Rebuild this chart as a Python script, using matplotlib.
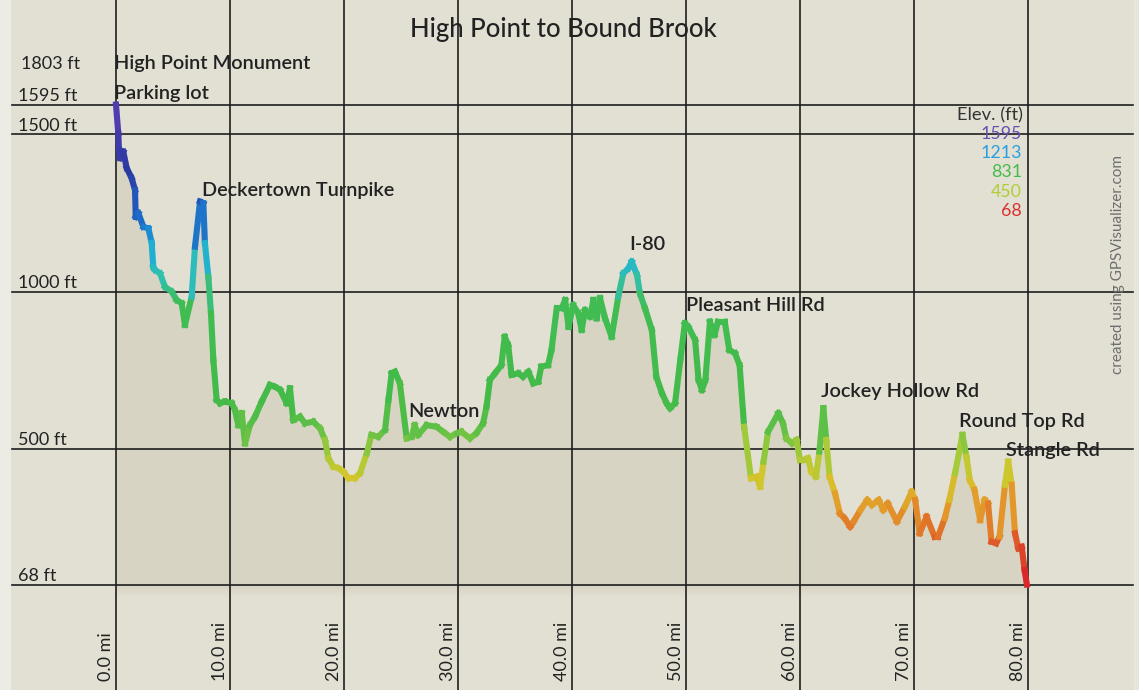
import numpy as np
import matplotlib
matplotlib.use("Agg")
import matplotlib.pyplot as plt
from matplotlib.collections import LineCollection
from matplotlib.colors import LinearSegmentedColormap, Normalize

# ---- track profile (distance in miles, elevation in feet) ----
dist_mi = [0.0, 0.2, 0.26, 0.35, 0.64, 0.94, 1.37, 1.67, 1.73, 1.96, 2.4, 2.84,
           3.13, 3.27, 3.42, 3.86, 4.3, 4.88, 5.32, 5.76, 6.05, 6.64, 6.93, 7.37,
           7.66, 7.8, 8.1, 8.33, 8.54, 8.83, 9.12, 9.56, 10.15, 10.44, 10.73, 11.03,
           11.32, 11.75, 12.19, 12.78, 13.5, 13.95, 14.4, 14.97, 15.26, 15.55, 16.14,
           16.58, 17.3, 17.9, 18.33, 18.63, 19.06, 19.5, 19.94, 20.4, 20.96, 21.4,
           22.0, 22.4, 23.0, 23.6, 23.9, 24.18, 24.47, 24.9, 25.5, 25.94, 26.2, 26.5,
           27.25, 28.1, 28.7, 29.3, 29.9, 30.3, 31.05, 31.6, 32.2, 32.5, 32.8, 33.25,
           33.8, 34.1, 34.4, 34.7, 35.3, 35.7, 36.17, 36.6, 37.04, 37.3, 37.9, 38.2,
           38.66, 39.1, 39.4, 39.7, 40.1, 40.55, 40.85, 41.14, 41.6, 41.87, 42.17,
           42.46, 42.9, 43.48, 44.06, 44.5, 44.94, 45.24, 45.7, 45.96, 46.4, 47.0,
           47.4, 47.9, 48.3, 48.6, 49.04, 49.5, 49.9, 50.2, 50.8, 51.1, 51.4, 51.7,
           52.1, 52.5, 52.8, 53.4, 53.8, 54.3, 54.7, 55.1, 55.7, 56.2, 56.5, 56.8,
           57.2, 58.1, 58.5, 58.8, 59.3, 59.7, 60.0, 60.3, 60.7, 61.0, 61.4, 61.7,
           62.05, 62.3, 62.6, 63.07, 63.5, 63.9, 64.4, 64.7, 65.3, 65.9, 66.3, 66.9,
           67.3, 67.7, 68.5, 69.2, 69.8, 70.1, 70.5, 71.1, 71.8, 72.1, 72.7, 73.1,
           73.6, 74.25, 74.6, 74.9, 75.3, 75.8, 76.2, 76.5, 76.8, 77.2, 77.5, 77.98,
           78.27, 78.57, 78.86, 79.15, 79.45, 79.7, 79.9]
elev_ft = [1595, 1503, 1450, 1425, 1445, 1393, 1361, 1323, 1238, 1250, 1206, 1201,
           1155, 1079, 1069, 1058, 1015, 1000, 973, 963, 894, 984, 1143, 1286,
           1281, 1154, 1047, 931, 782, 655, 645, 650, 645, 623, 575, 613,
           517, 575, 602, 650, 703, 697, 687, 645, 692, 591, 602,
           581, 586, 565, 528, 470, 443, 438, 427, 406, 406, 422,
           485, 544, 538, 560, 655, 740, 745, 708, 533, 538, 575, 544,
           575, 570, 554, 538, 549, 554, 533, 549, 581, 634, 719, 740,
           766, 856, 830, 735, 740, 729, 745, 708, 713, 761, 766, 814,
           947, 947, 973, 888, 957, 931, 878, 941, 920, 973, 915,
           979, 915, 856, 984, 1058, 1074, 1095, 1053, 994, 947, 878,
           729, 676, 645, 629, 645, 782, 899, 888, 846, 719, 687, 719,
           904, 862, 904, 904, 814, 804, 766, 570, 406, 411, 379, 459,
           554, 613, 581, 533, 517, 528, 464, 464, 470, 427, 411, 491,
           629, 528, 411, 358, 294, 279, 252, 268, 305, 337, 321, 337,
           305, 326, 268, 316, 363, 337, 231, 284, 220, 220, 279, 337,
           422, 544, 475, 400, 369, 273, 337, 326, 204, 199, 220, 385,
           459, 385, 231, 183, 188, 114, 68]

# ---- axis labels ----
x_ticks = [0, 10, 20, 30, 40, 50, 60, 70, 80]
x_tick_labels = ["0.0 mi", "10.0 mi", "20.0 mi", "30.0 mi", "40.0 mi",
                 "50.0 mi", "60.0 mi", "70.0 mi", "80.0 mi"]
y_grid = [68, 500, 1000, 1500, 1595]
y_grid_labels = ["68 ft", "500 ft", "1000 ft", "1500 ft", "1595 ft"]
top_label = "1803 ft"

# ---- waypoints: name, mile, label elevation ----
wpt_names = ["High Point Monument", "Parking lot", "Deckertown Turnpike", "Newton",
             "I-80", "Pleasant Hill Rd", "Jockey Hollow Rd", "Round Top Rd", "Stangle Rd"]
wpt_mi = [-0.18, -0.18, 7.54, 25.6, 45.0, 50.0, 61.8, 73.95, 78.07]
wpt_label_ft = [1727, 1629, 1323, 617, 1151, 957, 681, 588, 493]

# ---- elevation colour legend ----
legend_vals = [1595, 1213, 831, 450, 68]
legend_cols = ["#6650b4", "#2a9fe0", "#44bb4a", "#b4cc34", "#d9302f"]

title = "High Point to Bound Brook"

# ---- figure and coordinate frame ----
W, H, DPI = 1139, 690, 100
PX_PER_MI = 11.4
PX_PER_FT = 0.3143
X0_PX, Y68_PX = 116, 584.5

fig = plt.figure(figsize=(W / DPI, H / DPI), dpi=DPI)
bg = "#e2dfd3"
fig.patch.set_facecolor(bg)
ax = fig.add_axes([0, 0, 1, 1])
ax.set_facecolor(bg)
ax.set_xlim(-X0_PX / PX_PER_MI, (W - X0_PX) / PX_PER_MI)
ax.set_ylim(68 - (H - Y68_PX) / PX_PER_FT, 68 + Y68_PX / PX_PER_FT)
ax.axis("off")

def px_x(px):
    return (px - X0_PX) / PX_PER_MI

def px_y(py):
    return 68 + (Y68_PX - py) / PX_PER_FT

# paper edges
ax.axvspan(ax.get_xlim()[0], px_x(11), color="#ecebe4", zorder=0, lw=0)
ax.axvspan(px_x(1134), ax.get_xlim()[1], color="#e8e6dc", zorder=0, lw=0)

x = np.array(dist_mi)
y = np.array(elev_ft)

# shaded area under the profile
ax.fill_between(x, y, 68, color="#d1cdba", alpha=0.6, lw=0, zorder=1)
# soft shadow under the baseline
for k in range(6):
    ax.fill_between([x[0], x[-1]], 68 - 6 * (k + 1), 68, color="#c9c5b3",
                    alpha=0.07, lw=0, zorder=1)

# grid
grid_kw = dict(color="#1e1e1e", lw=1.2, zorder=2)
for t in x_ticks:
    ax.axvline(t, **grid_kw)
for v in y_grid:
    ax.plot([px_x(12), px_x(1133)], [v, v], **grid_kw)

# profile line coloured by elevation
cmap = LinearSegmentedColormap.from_list("elev", [
    (0.00, "#d8202a"), (0.09, "#df5a28"), (0.16, "#e39a2a"),
    (0.22, "#d6c62a"), (0.27, "#a6cb38"), (0.32, "#62c146"),
    (0.38, "#44bb48"), (0.58, "#40bc52"), (0.64, "#30c0b4"),
    (0.70, "#1aaadc"), (0.77, "#1f62c2"), (0.86, "#2a3aa2"),
    (1.00, "#5a3cb2")])
norm = Normalize(vmin=68, vmax=1595)
pts = np.column_stack([x, y]).reshape(-1, 1, 2)
segs = np.concatenate([pts[:-1], pts[1:]], axis=1)
seg_elev = (y[:-1] + y[1:]) / 2
lc = LineCollection(segs, colors=cmap(norm(seg_elev)), linewidths=4.4,
                    capstyle="projecting", joinstyle="miter", zorder=3)
ax.add_collection(lc)

FONT = "Lato"
TXT = "#222222"

ax.text(px_x(563), px_y(30), title, ha="center", va="center",
        fontsize=18.5, family=FONT, fontweight="medium", color=TXT, zorder=5)

# y labels sit just above their grid lines
for v, lab in zip(y_grid, y_grid_labels):
    ax.annotate(lab, (px_x(18), v), xytext=(0, 0.5), textcoords="offset points",
                ha="left", va="bottom", fontsize=13, family=FONT, color=TXT, zorder=5)
ax.text(px_x(21), px_y(64), top_label, ha="left", va="center",
        fontsize=13, family=FONT, color=TXT, zorder=5)

# x labels, rotated, just left of each grid line
for t, lab in zip(x_ticks, x_tick_labels):
    ax.annotate(lab, (t, px_y(681)), xytext=(-7, 0), textcoords="offset points",
                ha="center", va="bottom", rotation=90, fontsize=13,
                family=FONT, color=TXT, zorder=5)

# waypoint labels
for name, m, e in zip(wpt_names, wpt_mi, wpt_label_ft):
    ax.text(m, e, name, ha="left", va="center", fontsize=14.3, family=FONT,
            fontweight="semibold", color=TXT, zorder=5)

# elevation colour key
ax.text(px_x(1023), px_y(115), "Elev. (ft)", ha="right", va="center",
        fontsize=13.2, family=FONT, color="#333333", zorder=5)
for i, (v, c) in enumerate(zip(legend_vals, legend_cols)):
    ax.text(px_x(1022), px_y(134 + 19.2 * i), str(v), ha="right", va="center",
            fontsize=12.8, family=FONT, color=c, zorder=5)

ax.text(px_x(1118), px_y(265), "created using GPSVisualizer.com", rotation=90,
        ha="center", va="center", fontsize=11, family=FONT, color="#6e6e6e", zorder=5)

fig.savefig("out.png", dpi=DPI, facecolor=fig.get_facecolor())
